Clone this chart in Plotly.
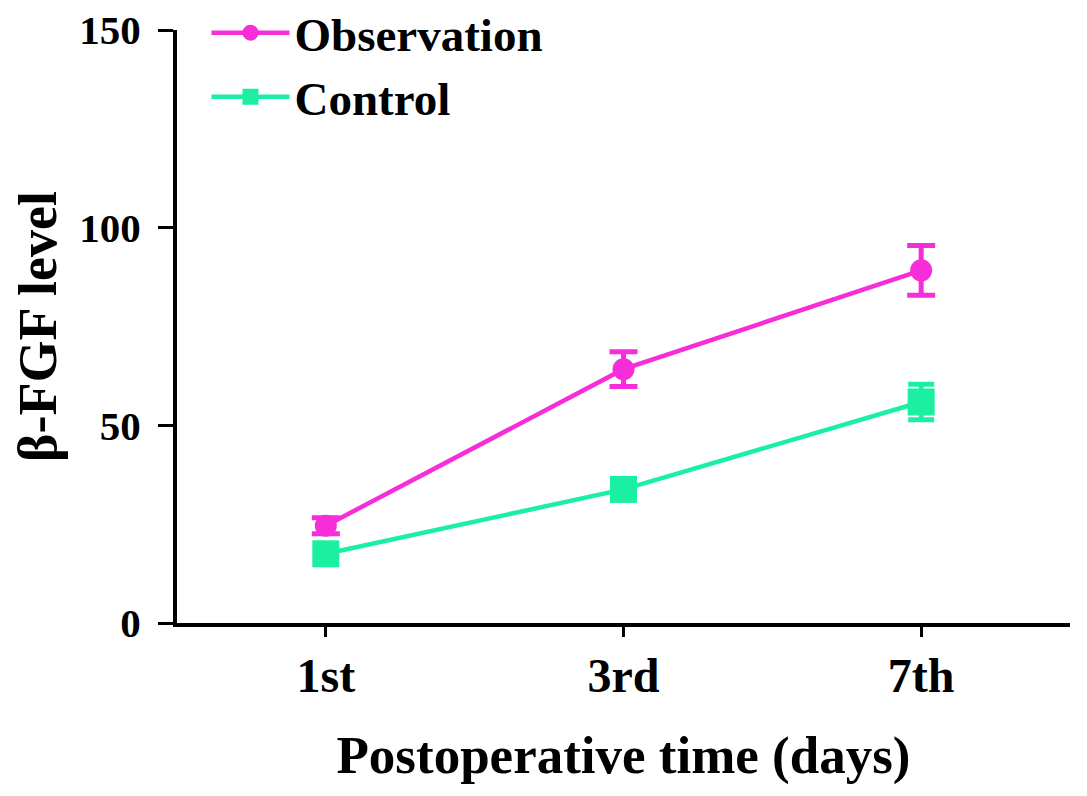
import plotly.graph_objects as go

# data
days = ["1st", "3rd", "7th"]
obs_mean = [24.6, 64.2, 89.2]
obs_err = [2.0, 4.4, 6.3]
ctrl_mean = [17.5, 33.8, 55.9]
ctrl_err = [1.5, 2.5, 4.5]

y_ticks = [0, 50, 100, 150]

FONT = "Liberation Serif"
OBS_COL = "#F62DD8"
CTRL_COL = "#1BEFA2"

fig = go.Figure()

fig.add_trace(go.Scatter(
    x=days, y=obs_mean, name="<b>Observation</b>",
    mode="lines+markers",
    line=dict(color=OBS_COL, width=4.5),
    marker=dict(symbol="circle", size=22, color=OBS_COL),
    error_y=dict(type="data", array=obs_err, color=OBS_COL, thickness=5, width=14),
))
fig.add_trace(go.Scatter(
    x=days, y=ctrl_mean, name="<b>Control</b>",
    mode="lines+markers",
    line=dict(color=CTRL_COL, width=4.5),
    marker=dict(symbol="square", size=27, color=CTRL_COL),
    error_y=dict(type="data", array=ctrl_err, color=CTRL_COL, thickness=5, width=13),
))

# page is drawn with an 8px body margin, so the margins are shifted by that
fig.update_layout(
    width=1087, height=796,
    margin=dict(l=169, r=25, t=22, b=181, autoexpand=False),
    paper_bgcolor="white", plot_bgcolor="white",
    font=dict(family=FONT, color="black"),
    legend=dict(
        x=0.033, y=1.058, xanchor="left", yanchor="top",
        font=dict(family=FONT, size=47, color="black"),
        bgcolor="rgba(0,0,0,0)", itemwidth=78, tracegroupgap=0,
    ),
)

fig.update_xaxes(
    type="category", range=[-0.5, 2.5], automargin=False,
    tickvals=days, ticktext=["<b>%s</b>" % d for d in days],
    showline=True, linecolor="black", linewidth=4,
    ticks="outside", ticklen=10, tickwidth=3, tickcolor="black",
    tickfont=dict(family=FONT, size=48, color="black"),
    ticklabelstandoff=-3,
    showgrid=False, zeroline=False,
    title=dict(text="<b>Postoperative time (days)</b>",
               font=dict(family=FONT, size=53, color="black"), standoff=36),
)

fig.update_yaxes(
    range=[0, 150], automargin=False, tickvals=y_ticks,
    ticktext=["<b>%d</b>" % v for v in y_ticks],
    showline=True, linecolor="black", linewidth=4,
    ticks="outside", ticklen=15, tickwidth=3, tickcolor="black",
    tickfont=dict(family=FONT, size=41, color="black"),
    ticklabelstandoff=9, ticklabeloverflow="allow",
    showgrid=False, zeroline=False,
    title=dict(text="<b>β-FGF level</b>",
               font=dict(family=FONT, size=54, color="black"), standoff=22),
)

fig.write_html("out.html")
